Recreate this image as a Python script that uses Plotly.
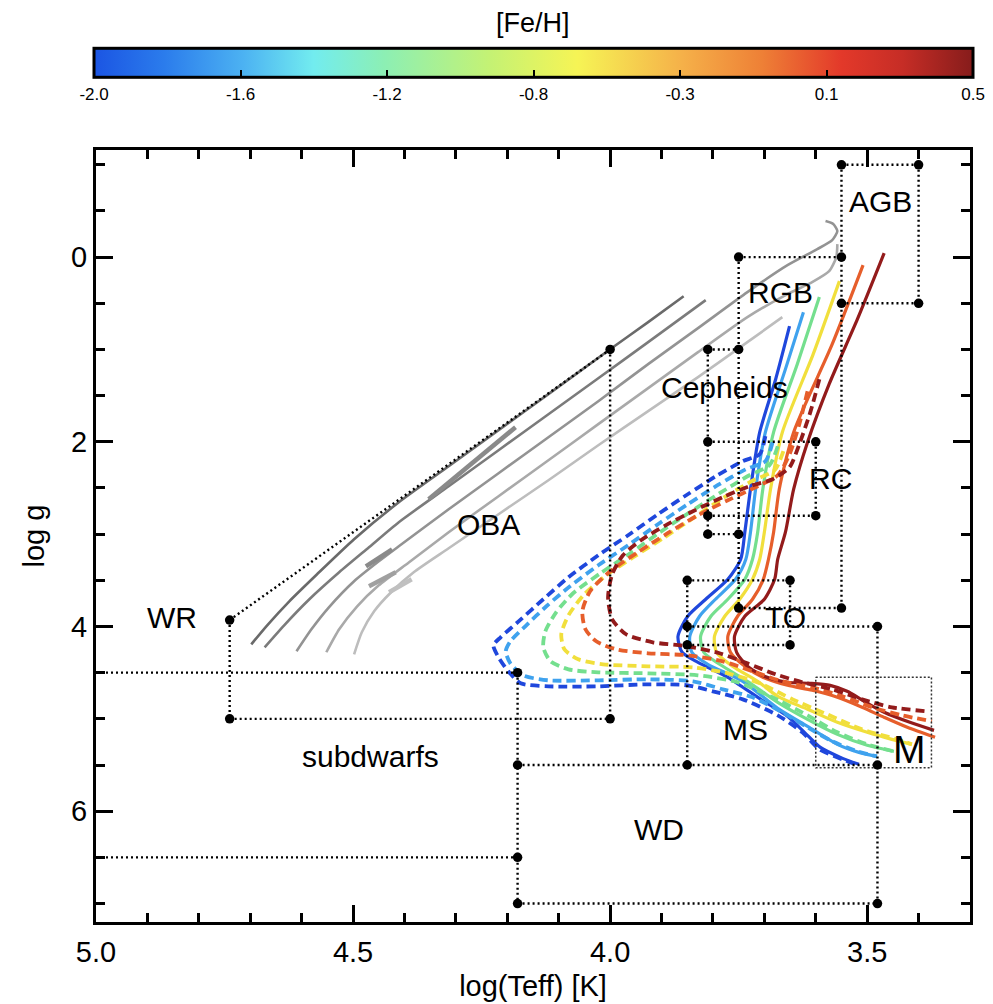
import plotly.graph_objects as go

# ---------------- [Fe/H] colour bar ----------------
FEH_TITLE = "[Fe/H]"
FEH_TICK_LABELS = ["-2.0", "-1.6", "-1.2", "-0.8", "-0.3", "0.1", "0.5"]
FEH_TICK_INDEX = [0, 1, 2, 3, 4, 5, 6]
FEH_COLORSCALE = [
    [0.00, "#1b55e3"], [0.08, "#2b7cec"], [0.17, "#4cb2f2"], [0.25, "#72ecef"],
    [0.33, "#8cefb4"], [0.45, "#c4f274"], [0.55, "#f6f455"], [0.67, "#f5b049"],
    [0.76, "#ee8036"], [0.85, "#e3392a"], [0.92, "#c62d26"], [1.00, "#861c1b"],
]

# ---------------- axes ----------------
TEFF_RANGE = [5.0, 3.3]
LOGG_RANGE = [7.2, -1.16]

# ---------------- solid isochrones (old), one per [Fe/H] ----------------
SOLID_COLORS = ["#1f47dc", "#3fa2ee", "#74df8e", "#f1df3c", "#e65e2b", "#931b1b"]

SOLID_BLUE_T = [3.651, 3.678, 3.709, 3.727, 3.738, 3.746, 3.771, 3.814, 3.849, 3.868,
                3.860, 3.829, 3.771, 3.707, 3.655, 3.622, 3.591, 3.552, 3.516]
SOLID_BLUE_G = [0.748, 1.322, 1.896, 2.513, 2.979, 3.272, 3.489, 3.705, 3.889, 4.106,
                4.279, 4.388, 4.550, 4.789, 4.973, 5.146, 5.309, 5.417, 5.493]

SOLID_LBLUE_T = [3.624, 3.659, 3.698, 3.717, 3.727, 3.736, 3.756, 3.795, 3.826, 3.845,
                 3.841, 3.810, 3.742, 3.674, 3.616, 3.558, 3.516, 3.481]
SOLID_LBLUE_G = [0.596, 1.213, 1.896, 2.513, 2.979, 3.272, 3.489, 3.705, 3.889, 4.106,
                 4.279, 4.409, 4.594, 4.886, 5.081, 5.276, 5.363, 5.406]

SOLID_GREEN_T = [3.593, 3.636, 3.682, 3.703, 3.713, 3.723, 3.738, 3.771, 3.804, 3.824,
                 3.818, 3.787, 3.733, 3.674, 3.616, 3.558, 3.500, 3.448]
SOLID_GREEN_G = [0.433, 1.159, 1.896, 2.513, 2.979, 3.272, 3.489, 3.705, 3.889, 4.106,
                 4.279, 4.409, 4.594, 4.821, 5.005, 5.168, 5.287, 5.352]

SOLID_YELLOW_T = [3.554, 3.605, 3.665, 3.688, 3.700, 3.709, 3.723, 3.748, 3.777, 3.797,
                  3.793, 3.762, 3.713, 3.674, 3.616, 3.558, 3.500, 3.452, 3.413]
SOLID_YELLOW_G = [0.260, 1.051, 1.896, 2.513, 2.979, 3.272, 3.489, 3.705, 3.889, 4.106,
                  4.279, 4.431, 4.594, 4.756, 4.897, 5.038, 5.146, 5.222, 5.276]

SOLID_ORANGE_T = [3.508, 3.568, 3.643, 3.671, 3.682, 3.692, 3.702, 3.723, 3.752, 3.771,
                  3.766, 3.738, 3.703, 3.655, 3.607, 3.558, 3.510, 3.467, 3.422, 3.368]
SOLID_ORANGE_G = [0.087, 0.943, 1.896, 2.513, 2.979, 3.272, 3.489, 3.705, 3.889, 4.106,
                  4.279, 4.431, 4.550, 4.637, 4.691, 4.767, 4.875, 4.984, 5.092, 5.200]

SOLID_DRED_T = [3.467, 3.519, 3.574, 3.616, 3.643, 3.659, 3.674, 3.680, 3.700, 3.738,
                3.758, 3.754, 3.733, 3.700, 3.655, 3.610, 3.572, 3.539, 3.506, 3.467,
                3.417, 3.370]
SOLID_DRED_G = [-0.043, 0.672, 1.376, 2.004, 2.513, 2.979, 3.272, 3.489, 3.705, 3.889,
                4.106, 4.279, 4.431, 4.539, 4.604, 4.615, 4.637, 4.702, 4.810, 4.929,
                5.038, 5.125]

# ---------------- dashed isochrones (young), one per [Fe/H] ----------------
DASH_BLUE_T = [3.698, 3.709, 3.742, 3.791, 3.849, 3.907, 3.965, 4.023, 4.081, 4.130,
               4.178, 4.213, 4.227, 4.217, 4.198, 4.174, 4.120, 4.023, 3.926, 3.849,
               3.800, 3.742, 3.674, 3.626, 3.593, 3.548, 3.516]
DASH_BLUE_G = [1.939, 2.134, 2.210, 2.362, 2.568, 2.784, 3.012, 3.229, 3.467, 3.705,
               3.944, 4.117, 4.204, 4.334, 4.485, 4.615, 4.648, 4.648, 4.626, 4.637,
               4.702, 4.789, 4.962, 5.146, 5.330, 5.439, 5.504]

DASH_LBLUE_T = [3.684, 3.698, 3.736, 3.791, 3.849, 3.907, 3.965, 4.023, 4.078, 4.124,
                4.165, 4.194, 4.203, 4.194, 4.169, 4.120, 4.023, 3.926, 3.839, 3.781,
                3.723, 3.665, 3.616, 3.568, 3.519, 3.481]
DASH_LBLUE_G = [2.004, 2.210, 2.297, 2.470, 2.676, 2.893, 3.120, 3.337, 3.564, 3.781,
                3.998, 4.160, 4.269, 4.399, 4.529, 4.583, 4.583, 4.572, 4.594, 4.680,
                4.767, 4.929, 5.092, 5.243, 5.352, 5.406]

DASH_GREEN_T = [3.674, 3.690, 3.729, 3.787, 3.845, 3.903, 3.961, 4.019, 4.072, 4.105,
                4.126, 4.130, 4.116, 4.081, 4.023, 3.926, 3.829, 3.752, 3.684, 3.616,
                3.558, 3.500, 3.448]
DASH_GREEN_G = [2.048, 2.253, 2.362, 2.557, 2.763, 2.979, 3.207, 3.424, 3.640, 3.846,
                4.052, 4.225, 4.377, 4.464, 4.496, 4.507, 4.529, 4.604, 4.767, 4.962,
                5.146, 5.276, 5.352]

DASH_YELLOW_T = [3.663, 3.680, 3.721, 3.781, 3.839, 3.897, 3.955, 4.010, 4.052, 4.081,
                 4.095, 4.089, 4.062, 4.014, 3.926, 3.839, 3.771, 3.709, 3.645, 3.578,
                 3.510, 3.442, 3.413]
DASH_YELLOW_G = [2.102, 2.308, 2.416, 2.611, 2.828, 3.044, 3.250, 3.456, 3.662, 3.879,
                 4.084, 4.247, 4.355, 4.409, 4.431, 4.442, 4.507, 4.615, 4.789, 4.951,
                 5.114, 5.222, 5.276]

DASH_ORANGE_T = [3.616, 3.632, 3.651, 3.674, 3.713, 3.771, 3.829, 3.888, 3.946, 4.000,
                 4.039, 4.054, 4.048, 4.027, 3.988, 3.926, 3.849, 3.781, 3.723, 3.665,
                 3.607, 3.548, 3.490, 3.432, 3.374]
DASH_ORANGE_G = [1.452, 1.809, 2.134, 2.362, 2.481, 2.633, 2.795, 2.990, 3.196, 3.402,
                 3.619, 3.835, 4.030, 4.160, 4.247, 4.290, 4.312, 4.377, 4.485, 4.594,
                 4.659, 4.756, 4.875, 4.962, 5.027]

DASH_DRED_T = [3.593, 3.610, 3.632, 3.651, 3.684, 3.729, 3.781, 3.835, 3.892, 3.940,
               3.975, 3.996, 4.004, 3.996, 3.969, 3.917, 3.849, 3.787, 3.733, 3.678,
               3.626, 3.568, 3.510, 3.452, 3.384]
DASH_DRED_G = [1.322, 1.668, 2.026, 2.275, 2.405, 2.481, 2.600, 2.741, 2.904, 3.066,
               3.229, 3.434, 3.684, 3.922, 4.084, 4.171, 4.214, 4.290, 4.399, 4.518,
               4.604, 4.680, 4.789, 4.875, 4.919]

# ---------------- massive-star tracks (grey) ----------------
GREY_COLORS = ["#6a6a6a", "#7b7b7b", "#939393", "#a9a9a9", "#bdbdbd"]
GREY_A_T = [4.698, 4.667, 4.624, 4.570, 4.498, 4.411, 4.314, 4.217, 4.120, 4.000, 3.926, 3.857]
GREY_A_G = [4.193, 3.987, 3.727, 3.434, 3.055, 2.654, 2.264, 1.874, 1.484, 0.997, 0.704, 0.423]
GREY_B_T = [4.672, 4.634, 4.585, 4.527, 4.469, 4.411, 4.314, 4.217, 4.120, 4.023, 3.926, 3.814]
GREY_B_G = [4.225, 3.987, 3.705, 3.413, 3.142, 2.871, 2.481, 2.091, 1.701, 1.311, 0.921, 0.466]
GREY_C_T = [4.610, 4.581, 4.547, 4.498, 4.450, 4.411, 4.314, 4.217, 4.120, 4.023, 3.926,
            3.829, 3.733, 3.655, 3.597, 3.568, 3.558, 3.566, 3.581]
GREY_C_G = [4.268, 4.030, 3.792, 3.510, 3.294, 3.131, 2.730, 2.340, 1.950, 1.560, 1.159,
            0.769, 0.379, 0.087, -0.087, -0.184, -0.282, -0.358, -0.390]
GREY_D_T = [4.552, 4.527, 4.492, 4.450, 4.391, 4.314, 4.217, 4.120, 4.023, 3.926, 3.829,
            3.733, 3.655, 3.607, 3.574, 3.560, 3.558]
GREY_D_G = [4.279, 4.030, 3.781, 3.554, 3.304, 2.979, 2.589, 2.199, 1.809, 1.419, 1.029,
            0.650, 0.401, 0.271, 0.152, 0.000, -0.141]
GREY_E_T = [4.498, 4.483, 4.459, 4.426, 4.382, 4.314, 4.217, 4.120, 4.023, 3.926, 3.829, 3.733, 3.665]
GREY_E_G = [4.301, 4.063, 3.835, 3.629, 3.413, 3.153, 2.784, 2.416, 2.037, 1.668, 1.300, 0.921, 0.650]

# short blue-loop pieces of the grey tracks
LOOP_T = [[4.353, 4.184], [4.475, 4.424], [4.469, 4.417], [4.430, 4.386]]
LOOP_G = [[2.622, 1.842], [3.348, 3.164], [3.564, 3.413], [3.629, 3.489]]
LOOP_COLORS = ["#8a8a8a", "#8a8a8a", "#a0a0a0", "#c0c0c0"]

# ---------------- region boundaries (dotted) ----------------
EDGE_T0 = [3.55, 3.40, 3.55, 3.55, 3.75, 3.75, 3.75, 3.81, 3.81, 3.81, 3.81, 3.81, 3.60,
           3.85, 3.85, 3.65, 3.85, 3.85, 3.48, 4.18, 4.18, 4.18, 5.00, 5.00, 4.74, 4.74,
           4.74, 4.00]
EDGE_G0 = [-1.0, -1.0, 0.5, -1.0, 0.0, 0.0, 3.8, 1.0, 1.0, 3.0, 2.0, 2.8, 2.0,
           3.5, 4.2, 3.5, 3.5, 4.0, 4.0, 5.5, 7.0, 4.5, 4.5, 6.5, 3.93, 3.93,
           5.0, 1.0]
EDGE_T1 = [3.40, 3.40, 3.40, 3.55, 3.55, 3.75, 3.55, 3.75, 3.81, 3.75, 3.60, 3.60, 3.60,
           3.65, 3.65, 3.65, 3.85, 3.48, 3.48, 3.48, 3.48, 4.18, 4.18, 4.18, 4.00, 4.74,
           4.00, 4.00]
EDGE_G1 = [-1.0, 0.5, 0.5, 3.8, 0.0, 3.8, 3.8, 1.0, 3.0, 3.0, 2.0, 2.8, 2.8,
           3.5, 4.2, 4.2, 5.5, 4.0, 7.0, 5.5, 7.0, 7.0, 4.5, 6.5, 1.0, 5.0,
           5.0, 5.0]

CORNER_T = [3.55, 3.40, 3.75, 3.55, 3.55, 3.40, 4.00, 3.81, 3.75, 3.81, 3.60, 3.81, 3.60,
            3.81, 3.75, 3.85, 3.65, 3.75, 3.55, 3.85, 3.48, 3.85, 3.65, 4.74, 4.74, 4.00,
            4.18, 4.18, 3.85, 3.48, 4.18, 4.18, 3.48]
CORNER_G = [-1.0, -1.0, 0.0, 0.0, 0.5, 0.5, 1.0, 1.0, 1.0, 2.0, 2.0, 2.8, 2.8,
            3.0, 3.0, 3.5, 3.5, 3.8, 3.8, 4.0, 4.0, 4.2, 4.2, 3.93, 5.0, 5.0,
            4.5, 5.5, 5.5, 5.5, 6.5, 7.0, 7.0]

M_BOX_T = [3.60, 3.375]
M_BOX_G = [4.55, 5.53]

# ---------------- region labels ----------------
LABEL_TEXT = ["AGB", "RGB", "Cepheids", "RC", "OBA", "WR", "TO", "MS", "subdwarfs", "WD", "M"]
LABEL_T = [3.475, 3.669, 3.777, 3.572, 4.236, 4.853, 3.659, 3.736, 4.467, 3.905, 3.417]
LABEL_G = [-0.60, 0.38, 1.41, 2.40, 2.89, 3.90, 3.90, 5.11, 5.41, 6.20, 5.33]
LABEL_SIZE = [30, 30, 30, 30, 30, 30, 30, 30, 30, 30, 39]

FONT = "Liberation Sans, Arial, Helvetica, sans-serif"

fig = go.Figure()

# grey tracks
for t, g, c in zip([GREY_A_T, GREY_B_T, GREY_C_T, GREY_D_T, GREY_E_T],
                   [GREY_A_G, GREY_B_G, GREY_C_G, GREY_D_G, GREY_E_G], GREY_COLORS):
    fig.add_trace(go.Scatter(x=t, y=g, mode="lines", hoverinfo="skip",
                             line=dict(color=c, width=2.6, shape="spline", smoothing=0.6)))
for t, g, c in zip(LOOP_T, LOOP_G, LOOP_COLORS):
    fig.add_trace(go.Scatter(x=t, y=g, mode="lines", hoverinfo="skip",
                             line=dict(color=c, width=4.5)))

# solid isochrones
for t, g, c in zip([SOLID_BLUE_T, SOLID_LBLUE_T, SOLID_GREEN_T, SOLID_YELLOW_T, SOLID_ORANGE_T, SOLID_DRED_T],
                   [SOLID_BLUE_G, SOLID_LBLUE_G, SOLID_GREEN_G, SOLID_YELLOW_G, SOLID_ORANGE_G, SOLID_DRED_G],
                   SOLID_COLORS):
    fig.add_trace(go.Scatter(x=t, y=g, mode="lines", hoverinfo="skip",
                             line=dict(color=c, width=3.2, shape="spline", smoothing=0.7)))

# dashed isochrones
for t, g, c in zip([DASH_BLUE_T, DASH_LBLUE_T, DASH_GREEN_T, DASH_YELLOW_T, DASH_ORANGE_T, DASH_DRED_T],
                   [DASH_BLUE_G, DASH_LBLUE_G, DASH_GREEN_G, DASH_YELLOW_G, DASH_ORANGE_G, DASH_DRED_G],
                   SOLID_COLORS):
    fig.add_trace(go.Scatter(x=t, y=g, mode="lines", hoverinfo="skip",
                             line=dict(color=c, width=3.8, dash="9px,5px", shape="spline", smoothing=0.7)))

# region boundaries
ex, ey = [], []
for t0, g0, t1, g1 in zip(EDGE_T0, EDGE_G0, EDGE_T1, EDGE_G1):
    ex += [t0, t1, None]
    ey += [g0, g1, None]
fig.add_trace(go.Scatter(x=ex, y=ey, mode="lines", hoverinfo="skip",
                         line=dict(color="black", width=2.4, dash="2px,3px")))

# M box (thin)
fig.add_trace(go.Scatter(x=[M_BOX_T[0], M_BOX_T[1], M_BOX_T[1], M_BOX_T[0], M_BOX_T[0]],
                         y=[M_BOX_G[0], M_BOX_G[0], M_BOX_G[1], M_BOX_G[1], M_BOX_G[0]],
                         mode="lines", hoverinfo="skip",
                         line=dict(color="#333333", width=1.5, dash="2px,2px")))

# corner dots
fig.add_trace(go.Scatter(x=CORNER_T, y=CORNER_G, mode="markers", hoverinfo="skip",
                         marker=dict(color="black", size=9.5)))

# colour bar carrier
fig.add_trace(go.Scatter(x=[None] * len(FEH_TICK_INDEX), y=[None] * len(FEH_TICK_INDEX),
                         mode="markers", hoverinfo="skip",
                         marker=dict(color=FEH_TICK_INDEX, coloraxis="coloraxis")))

for txt, t, g, s in zip(LABEL_TEXT, LABEL_T, LABEL_G, LABEL_SIZE):
    fig.add_annotation(x=t, y=g, text=txt, showarrow=False,
                       font=dict(family=FONT, size=s, color="black"))

# colour-bar title
fig.add_annotation(xref="paper", yref="paper", x=0.5, y=(922 - 23) / 772,
                   xanchor="center", yanchor="middle", showarrow=False, text=FEH_TITLE,
                   font=dict(family=FONT, size=27, color="black"))

fig.update_layout(
    width=993, height=1004,
    margin=dict(l=96, r=23, t=150, b=82),
    paper_bgcolor="white", plot_bgcolor="white",
    showlegend=False,
    font=dict(family=FONT, color="black", size=28),
    coloraxis=dict(
        colorscale=FEH_COLORSCALE, cmin=0, cmax=6,
        colorbar=dict(
            orientation="h", xref="paper", yref="paper",
            x=0.5006, xanchor="center", y=(922 - 81) / 772, yanchor="middle",
            len=879, lenmode="pixels", thickness=29, thicknessmode="pixels",
            xpad=0, ypad=0,
            outlinewidth=3, outlinecolor="black",
            tickmode="array", tickvals=FEH_TICK_INDEX, ticktext=FEH_TICK_LABELS,
            ticklabeloverflow="allow",
            ticks="inside", ticklen=8, tickwidth=2, tickcolor="black",
            tickfont=dict(family=FONT, size=17, color="black"),
        ),
    ),
)

fig.update_xaxes(
    range=TEFF_RANGE, tick0=0, dtick=0.5, tickformat=".1f",
    ticks="inside", ticklen=17, tickwidth=3, tickcolor="black",
    minor=dict(dtick=0.1, ticks="inside", ticklen=9, tickwidth=3, tickcolor="black"),
    showline=True, linewidth=3, linecolor="black", mirror="allticks",
    showgrid=False, zeroline=False, automargin=False,
    ticklabelstandoff=2,
    tickfont=dict(family=FONT, size=29, color="black"),
    title=dict(text="log(Teff) [K]", standoff=9, font=dict(family=FONT, size=29, color="black")),
)
fig.update_yaxes(
    range=LOGG_RANGE, tick0=0, dtick=2,
    ticks="inside", ticklen=17, tickwidth=3, tickcolor="black",
    minor=dict(dtick=0.5, ticks="inside", ticklen=9, tickwidth=3, tickcolor="black"),
    showline=True, linewidth=3, linecolor="black", mirror="allticks",
    showgrid=False, zeroline=False, automargin=False,
    ticklabelstandoff=0,
    tickfont=dict(family=FONT, size=29, color="black"),
    title=dict(text="log g", standoff=18, font=dict(family=FONT, size=29, color="black")),
)

fig.write_html("out.html")
